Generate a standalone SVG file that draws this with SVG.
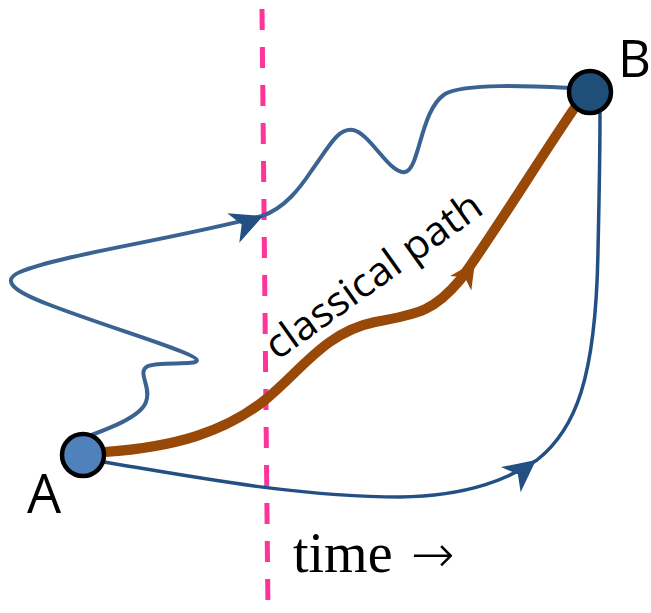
<svg xmlns="http://www.w3.org/2000/svg" width="651" height="613" viewBox="0 0 651 613">
<style>
.dash{stroke:#ff3399;stroke-width:5;stroke-dasharray:21 17;fill:none}
.top{stroke:#3a6391;stroke-width:4;fill:none;stroke-linecap:round}
.bot{stroke:#234f82;stroke-width:3.5;fill:none;stroke-linecap:round}
.cls{stroke:#984807;stroke-width:10;fill:none}
.node{stroke:#000;stroke-width:4.5}
.lbl{font-family:"Open Sans","Liberation Sans",sans-serif;fill:#000}
.tm{font-family:"Liberation Serif","DejaVu Serif",serif;fill:#000}
</style>
<defs>
<path id="ah" d="M0,0 L-32,-16 L-23,0 L-32,16 Z"/>
</defs>
<g id="timeline">
<line class="dash" x1="262" y1="9" x2="268" y2="613"/>
</g>
<g id="connectors">
<path class="top" d="M78,440 C105,430 140,418 146,402 C152,386 136,372 148,366 C160,361 198,366 197,360 C196,353 110,328 50,305 C10,290 2,280 20,272 C60,255 170,240 262,216 C285,208 300,188 312,170 C330,145 338,128 353,130 C370,133 390,175 405,172 C420,169 420,110 445,94 C465,83 530,86 570,88"/>
<use href="#ah" fill="#234f82" transform="translate(263,216) rotate(-22)"/>
<path class="bot" d="M104,462 C200,478 300,497 400,497 C470,496 510,478 537,460 C575,430 596,380 598,250 C600,160 600,130 600,113"/>
<use href="#ah" fill="#234f82" transform="translate(536,460) rotate(-38)"/>
<path class="cls" d="M105,452 C175,447 225,432 265,400 C300,372 325,332 375,322 C420,314 435,310 460,280 C490,240 545,150 578,103"/>
<use href="#ah" fill="#984807" transform="translate(475,262) rotate(-56) scale(0.8)"/>
</g>
<g id="nodeA">
<circle class="node" cx="83" cy="455" r="21" fill="#4f81bd"/>
<text class="lbl" x="27" y="513" font-size="54">A</text>
</g>
<g id="nodeB">
<circle class="node" cx="590" cy="92" r="21" fill="#1f4e79"/>
<text class="lbl" x="618" y="77" font-size="51">B</text>
</g>
<g id="label-classical">
<text class="lbl" font-size="40" transform="translate(277,361) rotate(-35.5)" textLength="256" lengthAdjust="spacingAndGlyphs">classical path</text>
</g>
<g id="label-time">
<text class="tm" x="293" y="572" font-size="56">time <tspan x="411" font-family="DejaVu Sans, sans-serif" font-weight="200" font-size="52">→</tspan></text>
</g>
</svg>
